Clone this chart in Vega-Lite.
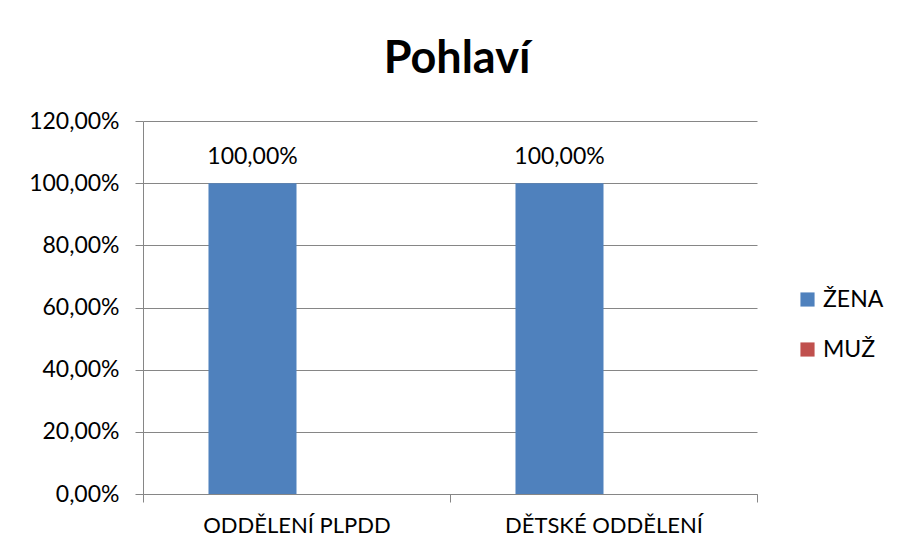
{
  "$schema": "https://vega.github.io/schema/vega-lite/v6.json",
  "width": 614,
  "height": 373,
  "autosize": "none",
  "padding": {"left": 143, "top": 121, "right": 140, "bottom": 59},
  "background": "white",
  "config": {
    "locale": {"number": {"decimal": ",", "thousands": " ", "grouping": [3], "currency": ["", " Kč"]}},
    "font": "Lato",
    "view": {"stroke": null}
  },
  "title": {"text": "Pohlaví", "fontSize": 45, "fontWeight": "bold", "font": "Lato", "color": "black", "anchor": "middle", "offset": 28, "dx": 7},
  "data": {"values": [
    {"oddeleni": "ODDĚLENÍ PLPDD", "pohlavi": "ŽENA", "podil": 1},
    {"oddeleni": "ODDĚLENÍ PLPDD", "pohlavi": "MUŽ", "podil": 0},
    {"oddeleni": "DĚTSKÉ ODDĚLENÍ", "pohlavi": "ŽENA", "podil": 1},
    {"oddeleni": "DĚTSKÉ ODDĚLENÍ", "pohlavi": "MUŽ", "podil": 0}
  ]},
  "encoding": {
    "x": {
      "field": "oddeleni", "type": "nominal", "sort": null,
      "scale": {"paddingInner": 0, "paddingOuter": 0},
      "axis": {"title": null, "labelAngle": 0, "labelFontSize": 22, "labelLimit": 0, "labelColor": "black", "labelPadding": 13, "tickBand": "extent", "tickSize": 8, "tickColor": "#868686", "domainColor": "#868686", "grid": false}
    },
    "xOffset": {"field": "pohlavi", "type": "nominal", "sort": ["ŽENA", "MUŽ"], "scale": {"paddingInner": 0, "paddingOuter": 0.744}},
    "y": {
      "field": "podil", "type": "quantitative",
      "scale": {"domain": [0, 1.2]},
      "axis": {"title": null, "values": [0, 0.2, 0.4, 0.6, 0.8, 1, 1.2], "format": ".2%", "grid": true, "gridColor": "#868686", "domainColor": "#868686", "tickColor": "#868686", "tickSize": 8, "labelFontSize": 23, "labelColor": "black", "labelPadding": 16}
    }
  },
  "layer": [
    {
      "mark": {"type": "bar"},
      "encoding": {
        "color": {
          "field": "pohlavi", "type": "nominal", "sort": ["ŽENA", "MUŽ"],
          "scale": {"domain": ["ŽENA", "MUŽ"], "range": ["#4F81BD", "#C0504D"]},
          "legend": {"title": null, "orient": "none", "legendX": 653, "legendY": 167, "symbolType": "square", "symbolSize": 200, "symbolStrokeWidth": 0, "labelFontSize": 23, "labelColor": "black", "rowPadding": 26, "labelOffset": 4}
        }
      }
    },
    {
      "transform": [{"filter": "datum.podil > 0"}],
      "mark": {"type": "text", "dy": -26, "fontSize": 23, "color": "black"},
      "encoding": {"text": {"field": "podil", "type": "quantitative", "format": ".2%"}}
    }
  ]
}
